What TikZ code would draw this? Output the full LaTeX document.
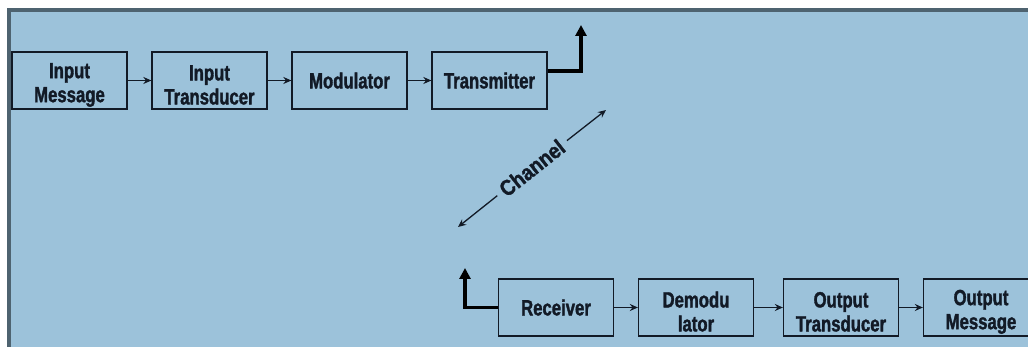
\documentclass[tikz,border=0pt]{standalone}
\usepackage{fontspec}
\setmainfont{Liberation Sans}
\newfontfamily\blockfont{Liberation Sans}[FakeStretch=0.76, BoldFeatures={FakeBold=1.5}]
\newfontfamily\chanfont{Liberation Sans}[FakeStretch=0.88, BoldFeatures={FakeBold=1.5}]
\usetikzlibrary{arrows.meta}
\definecolor{panel}{HTML}{9CC2DA}
\definecolor{frame}{HTML}{4E6370}
\definecolor{ink}{HTML}{121A26}
% strut that lowers the two-line labels a little inside their boxes
\newcommand\blockpad{\rule{0pt}{24pt}}
\tikzset{
  blockbox/.style={draw=ink, line width=1.3pt, minimum width=115pt, minimum height=57pt,
    inner sep=0pt, align=center, text=ink,
    font=\blockfont\bfseries\fontsize{22}{24}\selectfont},
  flow/.style={draw=ink, line width=1.3pt, -{Stealth[length=8pt,width=7pt]}},
  link/.style={draw=black, line width=3.5pt, -{Triangle[length=11pt,width=11pt]}},
  chanlabel/.style={text=ink, font=\chanfont\bfseries\fontsize{22}{24}\selectfont, inner sep=6pt},
}
\begin{document}
\begin{tikzpicture}[x=1pt,y=-1pt]
  \clip (0,0) rectangle (1028,347);
  % page, panel and its frame
  \fill[white] (0,0) rectangle (1028,347);
  \fill[panel] (9,10) rectangle (1028,347);
  \fill[frame] (7,8) rectangle (1028,12);
  \fill[frame] (7,8) rectangle (11,347);

  % transmitting chain
  \node[blockbox] (inmsg) at (69.5,80.5)  {\blockpad Input\\Message};
  \node[blockbox] (intr)  at (209.5,80.5) {\blockpad Input\\Transducer};
  \node[blockbox] (mod)   at (349.5,80.5) {Modulator};
  \node[blockbox] (tx)    at (489.5,80.5) {Transmitter};

  % receiving chain
  \node[blockbox] (rx)     at (556,307.5) {Receiver};
  \node[blockbox] (demod)  at (696,307.5) {\blockpad Demodu\\lator};
  \node[blockbox] (outtr)  at (841,307.5) {\blockpad Output\\Transducer};
  \node[blockbox] (outmsg) at (981,307.5) {\blockpad Output\\Message};

  \draw[flow] (inmsg) -- (intr);
  \draw[flow] (intr) -- (mod);
  \draw[flow] (mod) -- (tx);
  \draw[flow] (rx) -- (demod);
  \draw[flow] (demod) -- (outtr);
  \draw[flow] (outtr) -- (outmsg);

  % antennas
  \coordinate (txup) at (581,25);
  \coordinate (rxup) at (465,268);
  \draw[link] ([yshift=9.5pt]tx.east) -| (txup);
  \draw[link] (rx.west) -| (rxup);

  % channel
  \coordinate (chlow) at (458,227);
  \coordinate (chhigh) at (606,110);
  \node[chanlabel, rotate=38.3] (chan) at (532,168) {Channel};
  \draw[flow] (chan) -- (chhigh);
  \draw[flow] (chan) -- (chlow);
\end{tikzpicture}
\end{document}
